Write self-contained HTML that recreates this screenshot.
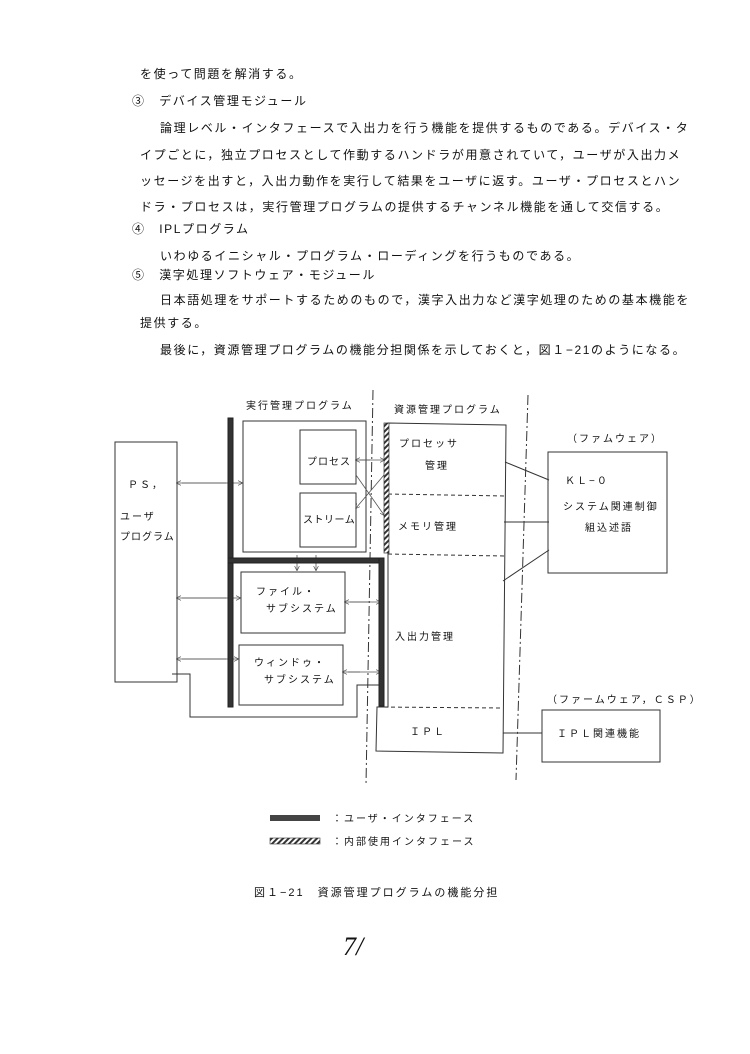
<!DOCTYPE html>
<html><head><meta charset="utf-8"><style>
body{margin:0;background:#fff;width:750px;height:1054px;overflow:hidden;position:relative;font-family:"Liberation Sans","Noto Sans CJK JP",sans-serif;color:#111}
.t{position:absolute;font-size:12px;letter-spacing:1.6px;white-space:nowrap;line-height:14px}
svg{position:absolute;left:0;top:0}
svg text{font-family:"Liberation Sans","Noto Sans CJK JP",sans-serif;font-size:10px;fill:#111;letter-spacing:2px}
</style></head><body>
<div class="t" style="left:140px;top:67px">を使って問題を解消する。</div>
<div class="t" style="left:132px;top:94px">③　デバイス管理モジュール</div>
<div class="t" style="left:160px;top:121px">論理レベル・インタフェースで入出力を行う機能を提供するものである。デバイス・タ</div>
<div class="t" style="left:140px;top:148px">イプごとに，独立プロセスとして作動するハンドラが用意されていて，ユーザが入出力メ</div>
<div class="t" style="left:140px;top:174px">ッセージを出すと，入出力動作を実行して結果をユーザに返す。ユーザ・プロセスとハン</div>
<div class="t" style="left:140px;top:200px">ドラ・プロセスは，実行管理プログラムの提供するチャンネル機能を通して交信する。</div>
<div class="t" style="left:132px;top:222px">④　IPLプログラム</div>
<div class="t" style="left:160px;top:249px">いわゆるイニシャル・プログラム・ローディングを行うものである。</div>
<div class="t" style="left:132px;top:268px">⑤　漢字処理ソフトウェア・モジュール</div>
<div class="t" style="left:160px;top:293px">日本語処理をサポートするためのもので，漢字入出力など漢字処理のための基本機能を</div>
<div class="t" style="left:140px;top:316px">提供する。</div>
<div class="t" style="left:160px;top:343px">最後に，資源管理プログラムの機能分担関係を示しておくと，図１−21のようになる。</div>

<svg width="750" height="1054" viewBox="0 0 750 1054">
<defs>
<pattern id="h" width="4" height="4" patternUnits="userSpaceOnUse" patternTransform="rotate(45)"><rect width="4" height="4" fill="#fff"/><rect width="2" height="4" fill="#333"/></pattern>
<marker id="a" markerWidth="6" markerHeight="6" refX="5" refY="3" orient="auto"><path d="M0,0L6,3L0,6" fill="none" stroke="#444" stroke-width="0.8"/></marker>
</defs>
<g fill="none" stroke="#333" stroke-width="1">
<line x1="373" y1="390" x2="366" y2="785" stroke-dasharray="10,3,2,3"/>
<line x1="528" y1="395" x2="516" y2="780" stroke-dasharray="10,3,2,3"/>
<rect x="115" y="442" width="62" height="240"/>
<rect x="243" y="421" width="123" height="131"/>
<rect x="300" y="430" width="56" height="54"/>
<rect x="300" y="493" width="56" height="54"/>
<rect x="241" y="572" width="104" height="61"/>
<rect x="239" y="645" width="104" height="60"/>
<polygon points="388,423 506,425 503,753 376,751 377,707 388,707"/>
<line x1="388" y1="494" x2="505" y2="496" stroke-dasharray="4,3"/>
<line x1="388" y1="554" x2="504" y2="556" stroke-dasharray="4,3"/>
<line x1="377" y1="707" x2="503" y2="708" stroke-dasharray="4,3"/>
<rect x="548" y="452" width="119" height="121"/>
<rect x="542" y="710" width="118" height="52"/>
<line x1="505" y1="462" x2="549" y2="480"/>
<line x1="504" y1="522" x2="549" y2="522"/>
<line x1="503" y1="581" x2="549" y2="550"/>
<line x1="503" y1="733" x2="542" y2="733"/>
<polyline points="172,674 190,674 190,717 357,717 357,685 380,685"/>
<g stroke="#555" stroke-width="0.8" marker-end="url(#a)">
<line x1="226" y1="483" x2="177" y2="483" /><line x1="182" y1="483" x2="242" y2="483"/>
<line x1="226" y1="598" x2="177" y2="598"/><line x1="182" y1="598" x2="240" y2="598"/>
<line x1="226" y1="659" x2="177" y2="659"/><line x1="182" y1="659" x2="238" y2="659"/>
<line x1="370" y1="460" x2="356" y2="460"/><line x1="360" y1="460" x2="384" y2="460"/>
<line x1="356" y1="475" x2="384" y2="515"/><line x1="384" y1="475" x2="356" y2="508"/>
<line x1="370" y1="602" x2="345" y2="602"/><line x1="350" y1="602" x2="380" y2="602"/>
<line x1="360" y1="672" x2="343" y2="672"/><line x1="348" y1="672" x2="380" y2="672"/>
<line x1="297" y1="555" x2="297" y2="570"/><line x1="316" y1="555" x2="316" y2="570"/>
</g>
</g>
<rect x="228" y="418" width="5" height="289" fill="#333" stroke="#222"/>
<rect x="228" y="558" width="156" height="5" fill="#333" stroke="#222"/>
<rect x="379" y="558" width="5" height="148" fill="#333" stroke="#222"/>
<rect x="384" y="423" width="5" height="130" fill="url(#h)" stroke="#333" stroke-width="0.7"/>
<text x="246" y="409">実行管理プログラム</text>
<text x="394" y="413">資源管理プログラム</text>
<text x="128" y="488">ＰＳ，</text>
<text x="120" y="520">ユーザ</text>
<text x="120" y="540" style="letter-spacing:1px">プログラム</text>
<text x="307" y="465" style="letter-spacing:1px">プロセス</text>
<text x="303" y="523" style="letter-spacing:0.5px">ストリーム</text>
<text x="256" y="595">ファイル・</text>
<text x="266" y="612">サブシステム</text>
<text x="254" y="666">ウィンドゥ・</text>
<text x="264" y="683">サブシステム</text>
<text x="399" y="447">プロセッサ</text>
<text x="425" y="469">管理</text>
<text x="398" y="530">メモリ管理</text>
<text x="395" y="640">入出力管理</text>
<text x="410" y="735">ＩＰＬ</text>
<text x="567" y="442">（ファムウェア）</text>
<text x="565" y="484">ＫＬ−０</text>
<text x="563" y="510">システム関連制御</text>
<text x="585" y="531">組込述語</text>
<text x="547" y="703">（ファームウェア，ＣＳＰ）</text>
<text x="557" y="737">ＩＰＬ関連機能</text>
<rect x="270" y="815" width="50" height="6" fill="#444"/>
<rect x="270" y="838" width="50" height="6" fill="url(#h)" stroke="#333" stroke-width="0.6"/>
<text x="332" y="822">：ユーザ・インタフェース</text>
<text x="332" y="845">：内部使用インタフェース</text>
<text x="254" y="896" style="font-size:11px">図１−21　資源管理プログラムの機能分担</text>
<text x="343" y="955" style="font-size:26px;font-family:'Liberation Serif',serif;font-style:italic;letter-spacing:0">7/</text>
</svg>
</body></html>
